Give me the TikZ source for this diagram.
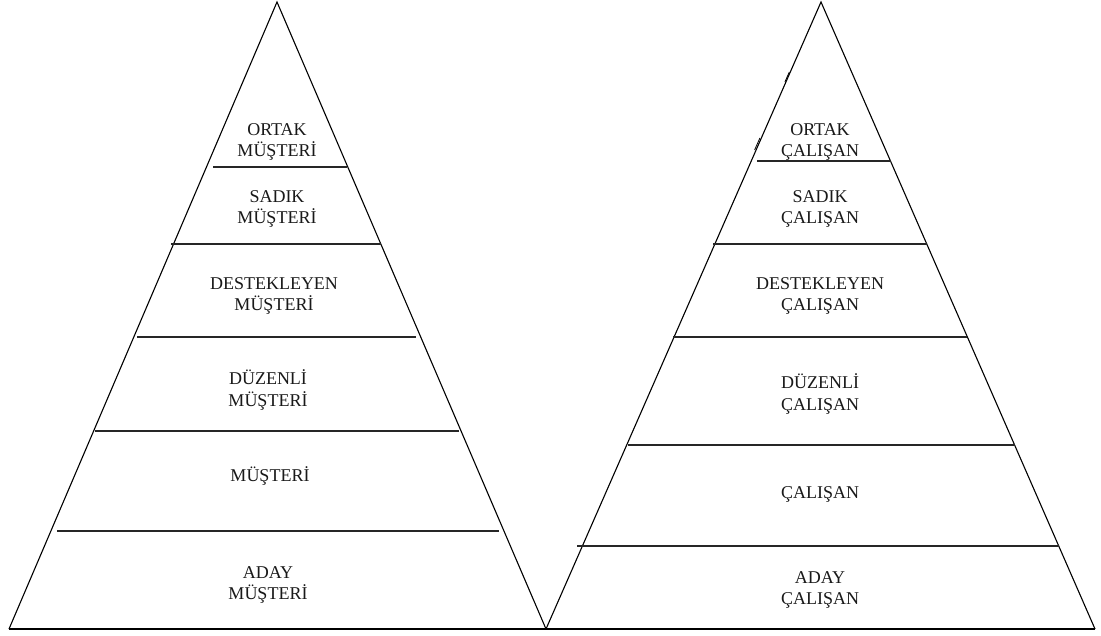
\documentclass[tikz,border=0pt]{standalone}
\usepackage{fontspec}
\setmainfont{Liberation Serif}
\begin{document}
\begin{tikzpicture}[x=1pt,y=-1pt,
  edge/.style={line width=1.1pt,black},
  tier/.style={line width=1.5pt,black!85},
  nick/.style={line width=0.8pt,black},
  lbl/.style={align=center,font=\fontsize{18}{21.5}\selectfont,text=black!90,inner sep=0pt}]
\useasboundingbox[fill=white] (0,0) rectangle (1101,636);

% outlines of the two pyramids
\draw[edge,line join=miter] (9,629) -- (277,2) -- (546,629);
\draw[edge,line join=miter] (546,629) -- (821,2) -- (1095,629);
\draw[edge] (9,629) -- (1095,629);

% small doubled strokes along the right pyramid's left side
\draw[nick] (789.3,72) -- (784.9,82);
\draw[nick] (759.9,138) -- (754.6,150);

% tier separators, left pyramid
\draw[tier] (213,167) -- (347,167);
\draw[tier] (171,244) -- (381,244);
\draw[tier] (137,337) -- (416,337);
\draw[tier] (95,431) -- (459,431);
\draw[tier] (57,531) -- (499,531);

% tier separators, right pyramid
\draw[tier] (757,161) -- (891,161);
\draw[tier] (713,244) -- (927,244);
\draw[tier] (673,337) -- (967,337);
\draw[tier] (628,445) -- (1015,445);
\draw[tier] (577,546) -- (1059,546);

% labels, left pyramid
\node[lbl] (l1) at (277,142) {ORTAK\\MÜŞTERİ};
\node[lbl] (l2) at (277,209) {SADIK\\MÜŞTERİ};
\node[lbl] (l3) at (274,296) {DESTEKLEYEN\\MÜŞTERİ};
\node[lbl] (l4) at (268,390) {DÜZENLİ\\MÜŞTERİ};
\node[lbl] (l5) at (270,476) {MÜŞTERİ};
\node[lbl] (l6) at (268,585) {ADAY\\MÜŞTERİ};

% labels, right pyramid
\node[lbl] (r1) at (820,142) {ORTAK\\ÇALIŞAN};
\node[lbl] (r2) at (820,209) {SADIK\\ÇALIŞAN};
\node[lbl] (r3) at (820,296) {DESTEKLEYEN\\ÇALIŞAN};
\node[lbl] (r4) at (820,394) {DÜZENLİ\\ÇALIŞAN};
\node[lbl] (r5) at (820,494) {ÇALIŞAN};
\node[lbl] (r6) at (820,590) {ADAY\\ÇALIŞAN};
\end{tikzpicture}
\end{document}
